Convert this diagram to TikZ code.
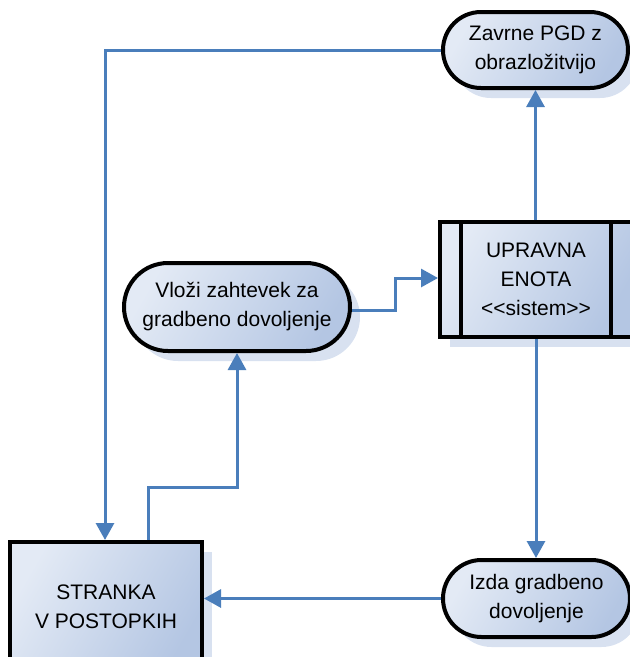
\documentclass[tikz,border=0pt]{standalone}
\usepackage{fontspec}
\setmainfont{Liberation Sans}
\usetikzlibrary{arrows.meta,shapes.misc,shadows}
\definecolor{flow}{HTML}{4A7EBB}
\definecolor{fillA}{HTML}{E3EAF5}
\definecolor{fillB}{HTML}{B4C6E3}
\definecolor{shadowcol}{HTML}{D8E1F0}
\tikzset{
  box/.style={draw=black, line width=4pt, inner sep=0pt, align=center,
    left color=fillA, right color=fillB, shading angle=60,
    font=\fontsize{21}{29}\selectfont,
    drop shadow={shadow xshift=10pt, shadow yshift=-10pt, fill=shadowcol, opacity=1}},
  activity/.style={box, rounded rectangle},
  actor/.style={box, rectangle},
  flowline/.style={draw=flow, line width=3pt},
  flowarrow/.style={flowline, -{Triangle[length=17pt,width=18pt]}},
}
\begin{document}
\begin{tikzpicture}[x=1pt,y=-1pt]
\useasboundingbox (0,0) rectangle (630,657);

% activities and actors
\node[activity, minimum width=185pt, minimum height=76pt] (zav) at (535.5,50) {Zavrne PGD z\\obrazložitvijo};
\node[actor, minimum width=192pt, minimum height=115pt] (upr) at (536,279.5) {UPRAVNA\\ENOTA\\<{}<sistem>{}>};
\node[activity, minimum width=226pt, minimum height=88pt] (vlo) at (237,307) {Vloži zahtevek za\\gradbeno dovoljenje};
\node[actor, minimum width=192pt, minimum height=130pt] (str) at (106,607) {STRANKA\\V POSTOPKIH};
\node[activity, minimum width=187pt, minimum height=77pt] (izd) at (536.5,598.5) {Izda gradbeno\\dovoljenje};

% inner bars of the system box
\draw[line width=4pt] ([xshift=23pt]upr.north west) -- ([xshift=23pt]upr.south west);
\draw[line width=4pt] ([xshift=-23pt]upr.north east) -- ([xshift=-23pt]upr.south east);

% helper points for the bends
\coordinate (b1) at (105,50);
\coordinate (b2) at (148,487);
\coordinate (b3) at (237,487);
\coordinate (b4) at (395,310);
\coordinate (b5) at (395,278);

% connectors
\draw[flowarrow] (zav.west) -- (b1) -- (b1 |- str.north);
\draw[flowarrow] (b2 |- str.north) -- (b2) -- (b3) -- (vlo.south);
\draw[flowarrow] (vlo.east |- b4) -- (b4) -- (b5) -- (upr.west |- b5);
\draw[flowarrow] (upr.north -| zav.south) -- (zav.south);
\draw[flowarrow] (upr.south) -- (upr.south |- izd.north);
\draw[flowarrow] (izd.west) -- (str.east |- izd.west);
\end{tikzpicture}
\end{document}
